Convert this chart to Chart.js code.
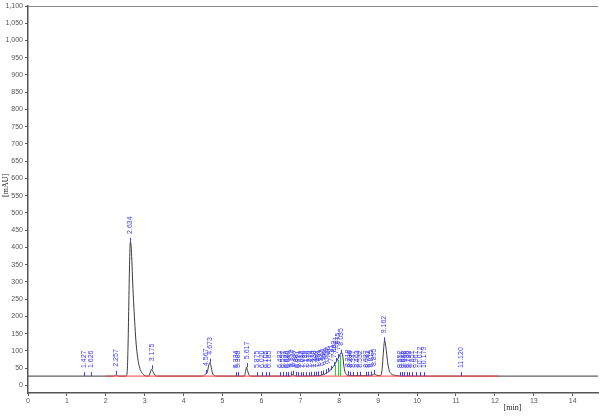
<!DOCTYPE html>
<html>
<head>
<meta charset="utf-8">
<script src="https://cdn.jsdelivr.net/npm/chart.js@4.4.1/dist/chart.umd.min.js"></script>
<style>
  html, body { margin: 0; padding: 0; background: #fff; }
  #wrap { width: 600px; height: 419px; }
</style>
</head>
<body>
<div id="wrap"><canvas id="chrom" width="600" height="419"></canvas></div>
<script>
// detector trace (time in min, signal in mAU)
const traceTime = [
  0, 1.40, 2.20, 2.24, 2.26, 2.29, 2.33, 2.52, 2.55, 2.57, 2.59, 2.61, 2.63, 2.65, 2.67, 2.69,
  2.72, 2.75, 2.78, 2.82, 2.86, 2.91, 2.97, 3.05, 3.10, 3.14, 3.175, 3.21, 3.26, 3.32,
  4.50, 4.56, 4.60, 4.65, 4.675, 4.70, 4.74, 4.80, 4.85,
  5.56, 5.60, 5.617, 5.64, 5.68, 5.72,
  6.75, 6.80, 6.84, 6.90, 7.45, 7.55, 7.65, 7.75, 7.85, 7.92, 7.98, 8.03, 8.06, 8.09,
  8.12, 8.15, 8.20, 8.28, 8.80, 8.86, 8.90, 8.95, 9.05, 9.10, 9.13, 9.165, 9.20, 9.24,
  9.28, 9.33, 9.40, 9.50, 9.60, 14.65
];
const traceValue = [
  27, 27, 27, 29, 31, 29, 27, 27, 40, 110, 230, 350, 416, 405, 360, 300,
  230, 170, 120, 80, 55, 40, 31, 27, 27, 36, 47, 40, 30, 27,
  27, 33, 36, 60, 66, 58, 36, 28, 27,
  27, 45, 53, 44, 30, 27,
  27, 31, 29, 27, 28, 30, 34, 42, 55, 68, 80, 92, 96, 85,
  55, 38, 30, 28, 28, 31, 33, 30, 28, 45, 90, 130, 110, 70,
  45, 34, 30, 28, 27, 27
];

// integration baseline
const baseTime = [2.0, 12.1];
const baseValue = [27, 27];

// integrated peaks: retention time and marker height
const peakTime = [
  1.427, 1.626, 2.257, 2.634, 3.175, 4.567, 4.673, 5.334, 5.388, 5.617,
  5.875, 6.020, 6.105, 6.185,
  6.482, 6.557, 6.628, 6.690, 6.752, 6.817, 6.887, 6.951, 7.012, 7.080, 7.148,
  7.210, 7.274, 7.338, 7.402, 7.461, 7.523, 7.590, 7.658, 7.720, 7.781,
  7.862, 7.921, 7.975, 8.035,
  8.218, 8.286, 8.347, 8.463, 8.532, 8.687, 8.742, 8.815, 8.895,
  9.162,
  9.552, 9.611, 9.668, 9.736, 9.792, 9.857, 9.967, 10.072, 10.179,
  11.120
];
const peakHeight = [
  27, 27, 31, 416, 47, 33, 66, 27, 27, 53,
  27, 27, 27, 27,
  27, 27, 27, 27, 29, 31, 28, 27, 27, 27, 27,
  27, 28, 28, 28, 29, 30, 32, 35, 39, 45,
  56, 68, 79, 92,
  30, 28, 28, 28, 28, 28, 28, 29, 33,
  128,
  27, 27, 27, 27, 27, 27, 27, 27, 27,
  27
];

// split-peak drop lines (green)
const dropTime = [7.90, 7.96, 8.02];
const dropTop = [60, 74, 88];

const xTicks = [0, 1, 2, 3, 4, 5, 6, 7, 8, 9, 10, 11, 12, 13, 14];
const yTicks = [0, 50, 100, 150, 200, 250, 300, 350, 400, 450, 500, 550, 600, 650, 700,
  750, 800, 850, 900, 950, 1000, 1050, 1100];

const toPoints = (xs, ys) => xs.map((x, i) => ({ x, y: ys[i] }));

const peakAnnotations = {
  id: 'peakAnnotations',
  afterDatasetsDraw(chart) {
    const { ctx, scales: { x, y }, chartArea } = chart;
    ctx.save();

    // top frame line
    ctx.strokeStyle = '#8a8a8a';
    ctx.lineWidth = 1;
    ctx.beginPath();
    ctx.moveTo(chartArea.left, chartArea.top + 0.5);
    ctx.lineTo(chartArea.right, chartArea.top + 0.5);
    ctx.stroke();

    ctx.strokeStyle = '#33cc33';
    dropTime.forEach((t, i) => {
      const px = Math.round(x.getPixelForValue(t)) + 0.5;
      ctx.beginPath();
      ctx.moveTo(px, y.getPixelForValue(baseValue[0]));
      ctx.lineTo(px, y.getPixelForValue(dropTop[i]));
      ctx.stroke();
    });

    ctx.strokeStyle = '#3c3cff';
    ctx.fillStyle = '#3c3cff';
    ctx.font = '7px "Liberation Sans", Arial, sans-serif';
    ctx.textAlign = 'left';
    ctx.textBaseline = 'middle';
    peakTime.forEach((t, i) => {
      const px = Math.round(x.getPixelForValue(t)) + 0.5;
      const py = y.getPixelForValue(peakHeight[i]);
      ctx.beginPath();
      ctx.moveTo(px, py);
      ctx.lineTo(px, py - 4);
      ctx.stroke();
      ctx.save();
      ctx.translate(px, py - 8);
      ctx.rotate(-Math.PI / 2);
      ctx.fillText(t.toFixed(3), 0, 0);
      ctx.restore();
    });

    // axis titles
    ctx.fillStyle = '#222';
    ctx.font = '8px "Liberation Serif", "Times New Roman", serif';
    ctx.textAlign = 'center';
    ctx.fillText('[min]', x.getPixelForValue(12.45), 408);
    ctx.save();
    ctx.translate(6, y.getPixelForValue(580));
    ctx.rotate(-Math.PI / 2);
    ctx.fillText('[mAU]', 0, 0);
    ctx.restore();

    ctx.restore();
  }
};

new Chart(document.getElementById('chrom'), {
  type: 'scatter',
  data: {
    datasets: [
      {
        label: 'baseline',
        data: toPoints(baseTime, baseValue),
        showLine: true,
        borderColor: '#ff4040',
        borderWidth: 1,
        pointRadius: 0,
        order: 0,
      },
      {
        label: 'signal',
        data: toPoints(traceTime, traceValue),
        showLine: true,
        borderColor: '#3a3a3a',
        borderWidth: 1,
        pointRadius: 0,
        cubicInterpolationMode: 'monotone',
        order: 1,
      },
    ],
  },
  options: {
    responsive: false,
    animation: false,
    layout: { padding: { top: 6, right: 2, left: 0, bottom: 0 } },
    plugins: {
      legend: { display: false },
      tooltip: { enabled: false },
    },
    scales: {
      x: {
        type: 'linear',
        min: 0,
        max: 14.65,
        afterBuildTicks: scale => { scale.ticks = xTicks.map(value => ({ value })); },
        afterFit: scale => {
          scale.height = 26;
          scale.paddingLeft = 0;
          scale.paddingRight = 0;
        },
        grid: { drawOnChartArea: false, drawTicks: true, tickLength: 3, color: '#555' },
        border: { color: '#555', width: 1.5 },
        ticks: {
          color: '#555',
          padding: 1,
          maxRotation: 0,
          font: { family: 'Liberation Sans', size: 7 },
          callback: value => value,
        },
      },
      y: {
        type: 'linear',
        min: -22,
        max: 1100,
        afterBuildTicks: scale => { scale.ticks = yTicks.map(value => ({ value })); },
        afterFit: scale => {
          scale.width = 28;
          scale.paddingTop = 0;
          scale.paddingBottom = 0;
        },
        grid: { drawOnChartArea: false, drawTicks: true, tickLength: 3, color: '#555' },
        border: { color: '#555', width: 1.5 },
        ticks: {
          color: '#555',
          padding: 2,
          font: { family: 'Liberation Sans', size: 7 },
          callback: value => value.toLocaleString('en-US'),
        },
      },
    },
  },
  plugins: [peakAnnotations],
});
</script>
</body>
</html>
